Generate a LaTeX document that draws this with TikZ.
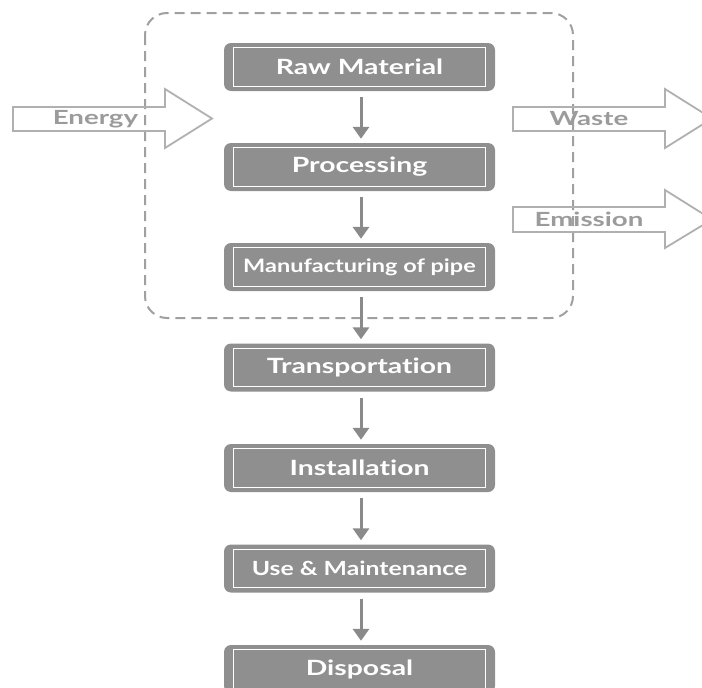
\documentclass[tikz,border=0pt]{standalone}
\usepackage{fontspec}
\setmainfont{Lato}[Ligatures=NoCommon]
\newfontfamily\stagefont{Lato}[FakeStretch=1.35, Ligatures=NoCommon]
\newfontfamily\smallstagefont{Lato}[FakeStretch=1.27, Ligatures=NoCommon]
\newfontfamily\flowfont{Lato}[FakeStretch=1.42, Ligatures=NoCommon]
\usetikzlibrary{arrows.meta}
\definecolor{boxgray}{RGB}{143,143,143}
\definecolor{linkgray}{RGB}{138,138,138}
\definecolor{framegray}{RGB}{160,160,160}
\definecolor{flowgray}{RGB}{176,176,176}
\definecolor{flowtext}{RGB}{155,155,155}
\tikzset{
  stage/.style={rounded corners=7pt, fill=boxgray, minimum width=271pt,
    minimum height=48pt, text=white,
    font=\stagefont\bfseries\fontsize{21}{24}\selectfont, inner sep=0pt},
  link/.style={linkgray, line width=3pt, -{Triangle[width=16pt,length=12pt]}},
  frame/.style={framegray, line width=2pt, dash pattern=on 10pt off 6pt,
    rounded corners=22pt},
  flow/.style={flowgray, line width=1.8pt, line join=miter},
  flowlabel/.style={text=flowtext,
    font=\flowfont\bfseries\fontsize{19.5}{22}\selectfont}
}
\begin{document}
\begin{tikzpicture}[x=1pt,y=-1pt]
\useasboundingbox (0,0) rectangle (702,688);
\clip (0,0) rectangle (702,688);

% system boundary
\draw[frame] (145,13) rectangle (573,318);

% life-cycle stages
\node[stage] (raw)  at (359.5,67)  {Raw Material};
\node[stage] (proc) at (359.5,167) {Processing};
\node[stage, font=\smallstagefont\bfseries\fontsize{18.5}{22}\selectfont] (manu) at (359.5,267) {Manufacturing of pipe};
\node[stage] (trans) at (359.5,367.5) {Transportation};
\node[stage] (inst) at (359.5,468) {Installation};
\node[stage, font=\smallstagefont\bfseries\fontsize{19.5}{22}\selectfont] (use) at (359.5,568.5) {Use \& Maintenance};
\node[stage] (disp) at (359.5,669) {Disposal};

% inner white outline of every stage
\foreach \n in {raw,proc,manu,trans,inst,use,disp}
  \draw[white, line width=1pt] ([xshift=10pt,yshift=-5pt]\n.north west)
    rectangle ([xshift=-10pt,yshift=5pt]\n.south east);

% connectors between stages
\foreach \a/\b in {raw/proc,proc/manu,manu/trans,trans/inst,inst/use,use/disp}
  \draw[link] ([xshift=1.5pt,yshift=-6pt]\a.south) -- ([xshift=1.5pt,yshift=4pt]\b.north);

% inputs and outputs
\draw[flow] (13,107) -- (165,107) -- (165,89) -- (212,118.5) -- (165,148)
  -- (165,131) -- (13,131) -- cycle;
\node[flowlabel] (energy) at (95.5,119) {Energy};

\draw[flow] (513,107) -- (665,107) -- (665,89) -- (712,118.5) -- (665,148)
  -- (665,131) -- (513,131) -- cycle;
\node[flowlabel] (waste) at (589,119) {Waste};

\draw[flow] (513,207) -- (665,207) -- (665,190) -- (712,219.5) -- (665,248)
  -- (665,232) -- (513,232) -- cycle;
\node[flowlabel] (emission) at (589,219.5) {Emission};
\end{tikzpicture}
\end{document}
